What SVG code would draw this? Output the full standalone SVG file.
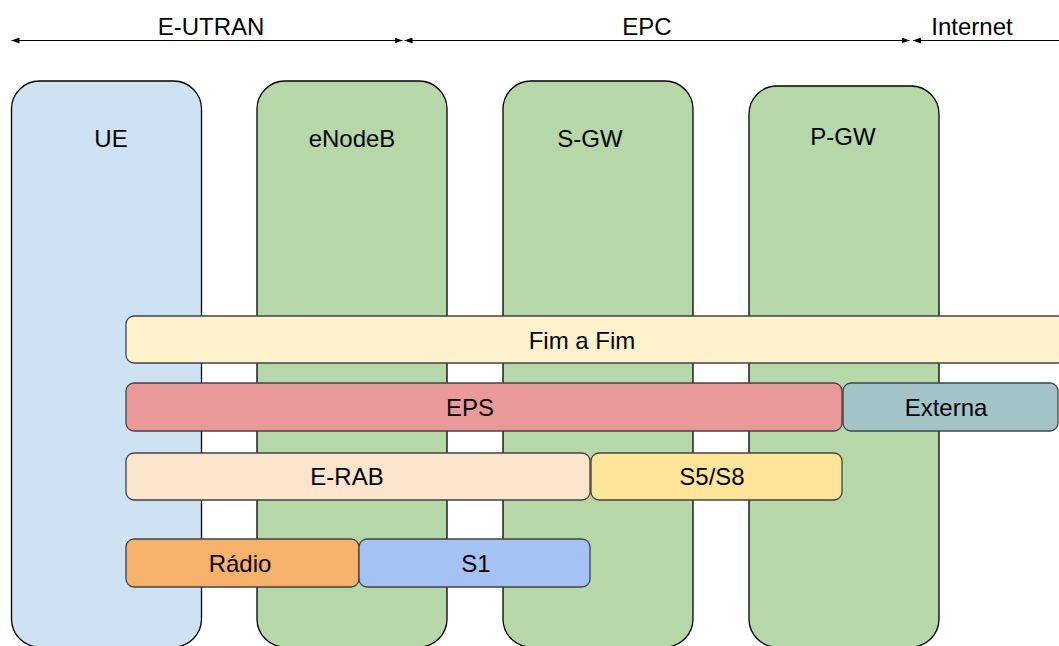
<svg xmlns="http://www.w3.org/2000/svg" width="1059" height="646" viewBox="0 0 1059 646">
<style>
text{font-family:"Liberation Sans",Arial,sans-serif;font-size:24px;fill:#000;text-anchor:middle}
.col{stroke:#000;stroke-width:1.3}
.bar{stroke:#434343;stroke-width:1.3}
.ln{stroke:#000;stroke-width:1.2;fill:none}
</style>
<defs>
<marker id="ah" viewBox="0 0 8 6" refX="8" refY="3" markerWidth="8" markerHeight="6" markerUnits="userSpaceOnUse" orient="auto-start-reverse">
<path d="M0,0L8,3L0,6z" fill="#000"/>
</marker>
</defs>
<rect width="1059" height="646" fill="#fff"/>
<g id="ue"><rect class="col" x="11.5" y="81" width="190" height="566" rx="28" fill="#cfe2f3"/><text x="111" y="147">UE</text></g>
<g id="enodeb"><rect class="col" x="257" y="81" width="190" height="566" rx="28" fill="#b6d7a8"/><text x="352" y="147">eNodeB</text></g>
<g id="sgw"><rect class="col" x="503" y="81" width="190" height="566" rx="28" fill="#b6d7a8"/><text x="590" y="147">S-GW</text></g>
<g id="pgw"><rect class="col" x="749" y="86" width="190" height="561" rx="28" fill="#b6d7a8"/><text x="843" y="144.5">P-GW</text></g>
<g id="fimafim"><rect class="bar" x="126" y="316" width="940" height="47" rx="8" fill="#fff2cc"/><text x="582" y="349">Fim a Fim</text></g>
<g id="eps"><rect class="bar" x="126" y="383" width="716" height="48" rx="8" fill="#ea9999"/><text x="470" y="416">EPS</text></g>
<g id="externa"><rect class="bar" x="843" y="383" width="215" height="48" rx="8" fill="#a2c4c9"/><text x="946" y="416">Externa</text></g>
<g id="erab"><rect class="bar" x="126" y="453" width="464" height="47" rx="8" fill="#fce5cd"/><text x="347" y="485">E-RAB</text></g>
<g id="s5s8"><rect class="bar" x="591" y="453" width="251" height="47" rx="8" fill="#ffe599"/><text x="712" y="485">S5/S8</text></g>
<g id="radio"><rect class="bar" x="126" y="539" width="233" height="48" rx="8" fill="#f6b26b"/><text x="240" y="572">Rádio</text></g>
<g id="s1"><rect class="bar" x="359" y="539" width="231" height="48" rx="8" fill="#a4c2f4"/><text x="476" y="572">S1</text></g>
<g id="connectors">
<line class="ln" x1="11.5" y1="40.5" x2="402.5" y2="40.5" marker-start="url(#ah)" marker-end="url(#ah)"/>
<line class="ln" x1="404.5" y1="40.5" x2="909.5" y2="40.5" marker-start="url(#ah)" marker-end="url(#ah)"/>
<line class="ln" x1="913" y1="40.5" x2="1059" y2="40.5" marker-start="url(#ah)"/>
</g>
<g id="labels">
<text x="211" y="34.5">E-UTRAN</text>
<text x="647" y="34.5">EPC</text>
<text x="972" y="34.5">Internet</text>
</g>
</svg>
